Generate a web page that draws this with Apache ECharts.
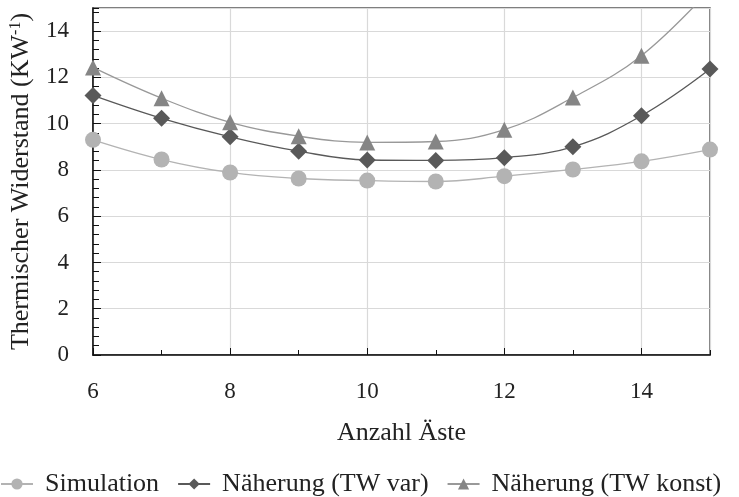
<!DOCTYPE html>
<html>
<head>
<meta charset="utf-8">
<script src="https://cdn.jsdelivr.net/npm/echarts@6/dist/echarts.min.js"></script>
<style>
html,body{margin:0;padding:0;background:#fff;}
#c{width:739px;height:497px;}
</style>
</head>
<body>
<div id="c"></div>
<script>
var xValues = [6, 7, 8, 9, 10, 11, 12, 13, 14, 15];
var simulation = [9.30, 8.45, 7.89, 7.63, 7.54, 7.50, 7.73, 8.02, 8.37, 8.88];
var twVar = [11.22, 10.23, 9.43, 8.81, 8.43, 8.41, 8.53, 9.00, 10.34, 12.36];
var twKonst = [12.43, 11.10, 10.06, 9.46, 9.19, 9.23, 9.74, 11.13, 12.94, 15.8];
var seriesNames = ['Simulation', 'Näherung (TW var)', 'Näherung (TW konst)'];
var yTitle = 'Thermischer Widerstand (KW';
var xTitle = 'Anzahl Äste';

function pairs(vals){ return xValues.map(function(x,i){ return [x, vals[i]]; }); }

var FONT = 'Liberation Serif';
var chart = echarts.init(document.getElementById('c'), null, {renderer:'canvas'});
var tickStyle = {color:'#222', fontFamily: FONT, fontSize: 23};

function mk(name, vals, symbol, mcolor, lcolor, size, z){
  return {
    name: name, type: 'line', data: pairs(vals), smooth: 0.4,
    symbol: symbol, symbolSize: size, clip: true, z: z,
    itemStyle: {color: mcolor},
    lineStyle: {color: lcolor, width: 1.3},
    emphasis: {disabled: true}
  };
}

chart.setOption({
  animation: false,
  backgroundColor: '#fff',
  grid: {left: 90, right: 29, top: 8, bottom: 142, show: true, borderColor: '#555', borderWidth: 1.5},
  legend: {
    top: 466, left: 0, padding: [5, 0, 5, 0], itemWidth: 32, itemHeight: 14, itemGap: 18,
    textStyle: {fontFamily: FONT, fontSize: 26, color: '#222', padding: [0, 0, 0, 7]},
    data: seriesNames
  },
  xAxis: [{
    type: 'value', min: 6, max: 15, interval: 2, position: 'bottom',
    name: xTitle, nameLocation: 'middle', nameGap: 65,
    nameTextStyle: {fontFamily: FONT, fontSize: 26, color: '#222'},
    axisLine: {show: true, onZero: false, lineStyle: {color: '#111', width: 1.5}},
    axisTick: {show: true, inside: true, length: 7, lineStyle: {color: '#111'}},
    axisLabel: Object.assign({margin: 25, showMaxLabel: false}, tickStyle),
    splitLine: {show: true, lineStyle: {color: '#d9d9d9', width: 1.2}}
  }, {
    type: 'value', min: 6, max: 15, interval: 1, position: 'bottom', gridIndex: 0,
    axisLine: {show: false},
    axisTick: {show: true, inside: true, length: 5, lineStyle: {color: '#111'}},
    axisLabel: {show: false},
    splitLine: {show: false}
  }],
  yAxis: [{
    type: 'value', min: 0, max: 15, interval: 2,
    name: yTitle + '{s|-1}{a|)}', nameLocation: 'middle', nameGap: 59,
    nameTextStyle: {fontFamily: FONT, fontSize: 26, color: '#222',
      rich: {
        a: {fontFamily: FONT, fontSize: 26, color: '#222'},
        s: {fontFamily: FONT, fontSize: 16, color: '#222', verticalAlign: 'top', lineHeight: 26}
      }},
    axisLine: {show: true, onZero: false, lineStyle: {color: '#111', width: 1.5}},
    axisTick: {show: true, inside: true, length: 8, lineStyle: {color: '#111'}},
    axisLabel: Object.assign({margin: 24, showMaxLabel: false}, tickStyle),
    splitLine: {show: true, lineStyle: {color: '#d9d9d9', width: 1.2}}
  }, {
    type: 'value', min: 0, max: 15, interval: 0.4, position: 'left', gridIndex: 0,
    axisLine: {show: false},
    axisTick: {show: true, inside: true, length: 6, lineStyle: {color: '#111'}},
    axisLabel: {show: false},
    splitLine: {show: false}
  }],
  series: [
    mk(seriesNames[0], simulation, 'circle', '#b3b3b3', '#b3b3b3', 16, 3),
    mk(seriesNames[1], twVar, 'diamond', '#595959', '#595959', 17, 4),
    mk(seriesNames[2], twKonst, 'triangle', '#858585', '#999999', 16, 5)
  ]
});
</script>
</body>
</html>
